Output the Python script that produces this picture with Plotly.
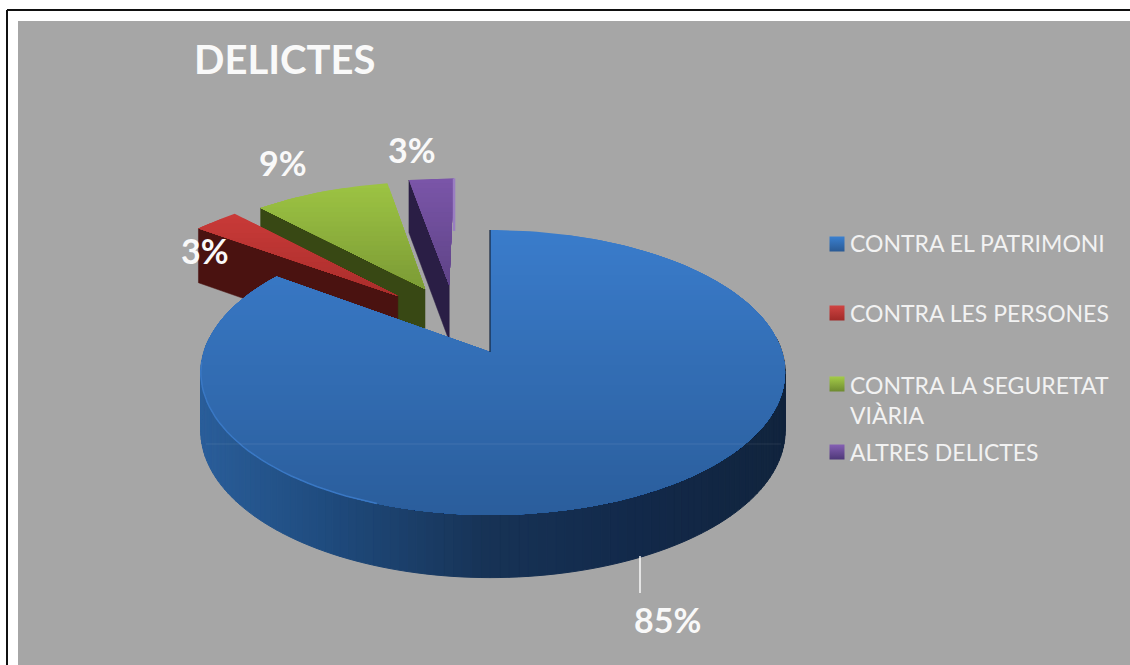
import math
import plotly.graph_objects as go

# ---- data ----
title_text = "DELICTES"
categories = ["CONTRA EL PATRIMONI", "CONTRA LES PERSONES", "CONTRA LA SEGURETAT<br>VIÀRIA", "ALTRES DELICTES"]
values = [85, 3, 9, 3]

# ---- style ----
explode = [(0.0, 0.0), (-0.335, 0.426), (-0.238, 0.483), (-0.15, 0.516)]
top_colors = [("#3a7ccb", "#2a5d9b"), ("#c83a38", "#a92d2b"), ("#9cc343", "#7b9a35"), ("#7a55a8", "#5e4386")]
face_colors = ["#14263f", "#4a1210", "#384814", "#2a1e45"]
key_colors = [("#3a80d0", "#2a5a94"), ("#d04442", "#a02a28"), ("#a4cc48", "#6e8a30"), ("#8560b4", "#4e3878")]
wall_stops = [(200, "#2a5e9a"), (330, "#1f4b7e"), (490, "#173356"), (640, "#12294a"), (785, "#11243d")]
legend_y = [244, 313, 384, 452]
legend_text_y = [243, 313, 400, 452]
label_xy = [(667, 619), (205, 250), (283, 162), (412, 149)]
FONT = "Lato"
WHITE = "#f9f9f9"
GREY = "#a6a6a6"
CX, CY, RX, RY, K, H = 490, 352, 292, 139.5, 0.1438, 58
LEFT_SQUEEZE = 0.98


def project(u, v, down=False):
    s = 1 / (1 + K * v)
    return CX + RX * u * s, CY - RY * v * s + (H * math.sqrt(s) if down else 0)


def rim(a, off):
    r = math.radians(a)
    u = math.sin(r)
    if off == (0.0, 0.0) and u < 0:
        u *= LEFT_SQUEEZE
    return off[0] + u, off[1] + math.cos(r)


def hex2rgb(c):
    return [int(c[i:i + 2], 16) for i in (1, 3, 5)]


def mix(a, b, t):
    t = max(0, min(1, t))
    p, q = hex2rgb(a), hex2rgb(b)
    return "rgb(%d,%d,%d)" % tuple(round(p[i] + (q[i] - p[i]) * t) for i in range(3))


def ramp(x):
    for (x0, c0), (x1, c1) in zip(wall_stops, wall_stops[1:]):
        if x <= x1:
            return mix(c0, c1, (x - x0) / (x1 - x0))
    return wall_stops[-1][1]


def clip_below(poly, yc):
    out = []
    for i in range(len(poly)):
        p, q = poly[i], poly[(i + 1) % len(poly)]
        if p[1] >= yc:
            out.append(p)
        if (p[1] >= yc) != (q[1] >= yc):
            t = (yc - p[1]) / (q[1] - p[1])
            out.append((p[0] + t * (q[0] - p[0]), yc))
    return out


fig = go.Figure()


def poly(pts, color, width=0):
    xs = [p[0] for p in pts] + [pts[0][0]]
    ys = [p[1] for p in pts] + [pts[0][1]]
    fig.add_trace(go.Scatter(x=xs, y=ys, mode="lines", fill="toself", fillcolor=color,
                             line=dict(color=color, width=width), hoverinfo="skip", showlegend=False))


# angular spans, clockwise from 12 o'clock
spans, acc = [], 0
total = sum(values)
for val in values:
    spans.append((acc * 360 / total, (acc + val) * 360 / total))
    acc += val


def draw_slice(i):
    a0, a1 = spans[i]
    off = explode[i]
    steps = max(8, int((a1 - a0) / 1.5))
    arc = [project(*rim(a0 + (a1 - a0) * k / steps, off)) for k in range(steps + 1)]
    apex = project(*off)
    if i > 0:
        # cut face on the side turned to the viewer
        r0 = rim(a0, off)
        poly([apex, project(*r0), project(*r0, True), project(*off, True)], face_colors[i], 0.5)
    else:
        # outer wall of the big slice, strip by strip
        n = 120
        for k in range(n):
            b0 = 84 + (276 - 84) * k / n
            b1 = 84 + (276 - 84) * (k + 1) / n
            p0, p1 = rim(b0, off), rim(b1, off)
            q = [project(*p0), project(*p1), project(*p1, True), project(*p0, True)]
            poly(q, ramp(q[0][0]), 1)
    shape = [apex] + arc
    y_min = min(p[1] for p in shape)
    y_max = max(p[1] for p in shape)
    bands = int((y_max - y_min) / 5) + 1
    for b in range(bands):
        yc = y_min + (y_max - y_min) * b / bands
        clipped = clip_below(shape, yc)
        if len(clipped) >= 3:
            poly(clipped, mix(top_colors[i][0], top_colors[i][1], b / bands))
    if i == 3:
        # lighter sliver on the right edge of the small slice
        r1 = rim(a1, off)
        top, bottom = project(*r1), project(*r1, True)
        fig.add_trace(go.Scatter(x=[top[0], bottom[0]], y=[top[1], bottom[1]], mode="lines",
                                 line=dict(color="#9a7ec2", width=2.5), hoverinfo="skip", showlegend=False))


for idx in (3, 2, 1, 0):
    draw_slice(idx)

# edge of the big slice at 12 o'clock
edge_top = project(*rim(0, (0.0, 0.0)))
fig.add_trace(go.Scatter(x=[edge_top[0], CX], y=[edge_top[1], CY], mode="lines",
                         line=dict(color="#14263f", width=1.2), hoverinfo="skip", showlegend=False))
# light rim along the front edge
rim_pts = [project(*rim(a, (0.0, 0.0))) for a in range(200, 268, 2)]
fig.add_trace(go.Scatter(x=[p[0] for p in rim_pts], y=[p[1] for p in rim_pts], mode="lines",
                         line=dict(color="#3a78c4", width=1.5), hoverinfo="skip", showlegend=False))
# faint seam across the pie
fig.add_trace(go.Scatter(x=[206, 781], y=[444, 444], mode="lines",
                         line=dict(color="rgba(255,255,255,0.09)", width=1), hoverinfo="skip", showlegend=False))
# leader line of the big slice
fig.add_trace(go.Scatter(x=[640, 640], y=[556, 593], mode="lines",
                         line=dict(color=WHITE, width=1.5), hoverinfo="skip", showlegend=False))

# legend keys
for i, name in enumerate(categories):
    fig.add_trace(go.Scatter(x=[837], y=[legend_y[i]], mode="markers", name=name, showlegend=False, hoverinfo="name",
                             marker=dict(symbol="square", size=15, color=key_colors[i][0],
                                         gradient=dict(type="vertical", color=key_colors[i][1]), line=dict(width=0))))

annotations = [
    dict(x=192, y=59, text="<b>%s</b>" % title_text, xanchor="left", yanchor="middle", showarrow=False,
         font=dict(family=FONT, size=40, color=WHITE)),
]
for i, name in enumerate(categories):
    annotations.append(dict(x=848, y=legend_text_y[i], text=name, xanchor="left", yanchor="middle", align="left",
                            showarrow=False, font=dict(family=FONT, size=23, color="#f2f2f2")))
for i, val in enumerate(values):
    annotations.append(dict(x=label_xy[i][0], y=label_xy[i][1], text="<b>%d%%</b>" % val, showarrow=False,
                            font=dict(family=FONT, size=34, color=WHITE)))

fig.update_layout(
    width=1130, height=665, margin=dict(l=0, r=0, t=0, b=0), paper_bgcolor="white", plot_bgcolor="white",
    xaxis=dict(range=[0, 1130], visible=False, fixedrange=True),
    yaxis=dict(range=[665, 0], visible=False, fixedrange=True),
    showlegend=False,
    annotations=annotations,
    shapes=[
        dict(type="rect", layer="below", x0=18, y0=21, x1=1130, y1=665, fillcolor=GREY, line=dict(width=0)),
        dict(type="line", layer="below", x0=7, y0=10, x1=1130, y1=10, line=dict(color="#111111", width=2)),
        dict(type="line", layer="below", x0=7, y0=10, x1=7, y1=665, line=dict(color="#111111", width=2)),
    ],
)
fig.write_html("out.html", config=dict(displayModeBar=False),
               post_script="document.body.style.margin='0';document.body.style.overflow='hidden';")
